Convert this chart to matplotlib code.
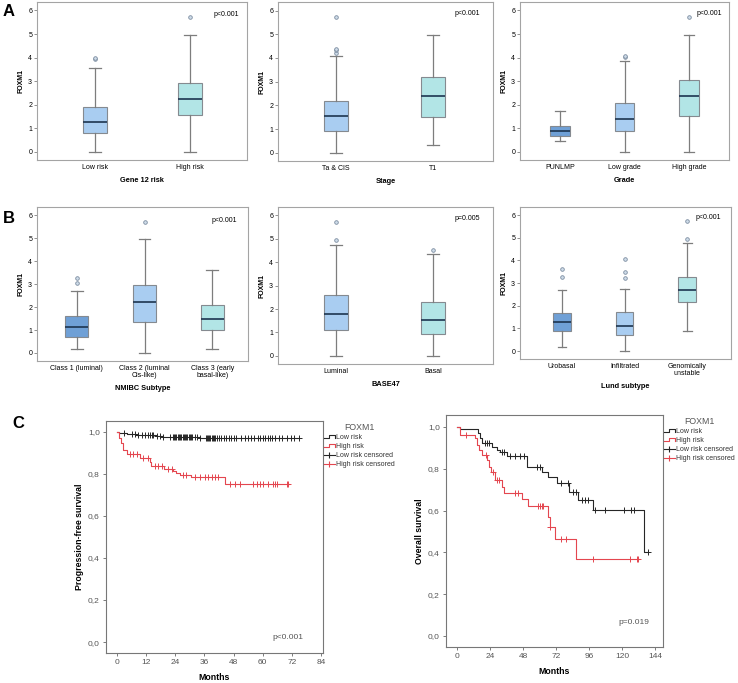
import numpy as np
import matplotlib
matplotlib.use("Agg")
import matplotlib.pyplot as plt
from matplotlib.lines import Line2D
from matplotlib.legend_handler import HandlerBase
from matplotlib.ticker import FuncFormatter

plt.rcParams['font.family'] = ['Liberation Sans', 'DejaVu Sans']

# ---------------- box plot summaries (FOXM1) ----------------
risk_labels = ["Low risk", "High risk"]
risk_q1 = [0.78, 1.55]
risk_med = [1.27, 2.22]
risk_q3 = [1.90, 2.92]
risk_lo = [0.0, 0.0]
risk_hi = [3.55, 4.95]
risk_out = [[3.95, 4.0], [5.72]]

stage_labels = ["Ta & CIS", "T1"]
stage_q1 = [0.92, 1.52]
stage_med = [1.55, 2.40]
stage_q3 = [2.18, 3.20]
stage_lo = [0.0, 0.33]
stage_hi = [4.10, 4.95]
stage_out = [[4.22, 4.32, 4.38, 5.72], []]

grade_labels = ["PUNLMP", "Low grade", "High grade"]
grade_q1 = [0.67, 0.88, 1.50]
grade_med = [0.90, 1.40, 2.35]
grade_q3 = [1.10, 2.08, 3.05]
grade_lo = [0.47, 0.0, 0.0]
grade_hi = [1.75, 3.87, 4.95]
grade_out = [[], [4.02, 4.07], [5.72]]

nmibc_labels = ["Class 1 (luminal)", "Class 2 (luminal\nCis-like)", "Class 3 (early\nbasal-like)"]
nmibc_q1 = [0.70, 1.35, 1.02]
nmibc_med = [1.15, 2.20, 1.50]
nmibc_q3 = [1.62, 2.95, 2.08]
nmibc_lo = [0.18, 0.0, 0.18]
nmibc_hi = [2.70, 4.95, 3.62]
nmibc_out = [[3.05, 3.28], [5.72], []]

base_labels = ["Luminal", "Basal"]
base_q1 = [1.12, 0.93]
base_med = [1.80, 1.55]
base_q3 = [2.60, 2.32]
base_lo = [0.0, 0.0]
base_hi = [4.75, 4.35]
base_out = [[4.95, 5.72], [4.52]]

lund_labels = ["Urobasal", "Infiltrated", "Genomically\nunstable"]
lund_q1 = [0.87, 0.73, 2.18]
lund_med = [1.30, 1.12, 2.68]
lund_q3 = [1.70, 1.72, 3.25]
lund_lo = [0.18, 0.0, 0.90]
lund_hi = [2.70, 2.72, 4.75]
lund_out = [[3.28, 3.62], [3.22, 3.50, 4.07], [4.95, 5.72]]

# ---------------- Kaplan-Meier curves ----------------
pfs_low_t = [0, 1, 4, 8, 12, 16, 19, 23, 34, 36]
pfs_low_s = [1.0, 0.994, 0.990, 0.987, 0.984, 0.980, 0.977, 0.975, 0.972, 0.969]
pfs_low_end = 75
pfs_low_cens = [3, 6.0, 7.4, 8.8, 10.2, 11.5, 12.9, 13.6, 14.3, 14.9, 16.3, 17.7, 19.1,
                22, 23, 23.5, 24, 24.5, 25, 25.5, 26, 26.5, 27, 27.5, 28, 28.5, 29, 29.5,
                30, 30.5, 31, 32, 33, 34, 36.5, 37, 37.5, 38, 38.5, 39, 39.5, 40, 40.5,
                41, 42, 43, 44, 45, 46, 47, 48, 49, 51, 52.5, 54, 55, 56.5, 58, 59, 60,
                61, 62, 63, 64, 65, 66.5, 68, 70, 71.5, 73, 75]

pfs_high_t = [0, 1.0, 1.5, 2.5, 4.0, 9.5, 13.5, 14.2, 19.5, 23.2, 24.5, 26.0, 30.5, 44.4]
pfs_high_s = [1.0, 0.970, 0.946, 0.914, 0.893, 0.878, 0.859, 0.837, 0.825, 0.815, 0.806,
              0.795, 0.785, 0.751]
pfs_high_end = 71
pfs_high_cens = [5.3, 6.7, 8.1, 10.8, 12.9, 15.6, 17.0, 18.4, 21.1, 22.5, 27.2, 28.6, 32.1,
                 34.2, 36.2, 37.6, 39.0, 40.3, 41.7, 46.5, 48.6, 50.6, 56.1, 57.5, 59.0,
                 60.2, 62.3, 64.3, 65.0, 65.7, 69.8, 70.5]

os_low_t = [0, 2.2, 15.5, 16.7, 18.4, 25.2, 28.8, 31.3, 36.1, 50.7, 61.6, 66.4, 72.5,
            81.5, 87.8, 99.2, 136.2]
os_low_s = [1.0, 0.989, 0.973, 0.946, 0.922, 0.906, 0.890, 0.879, 0.861, 0.810, 0.783,
            0.759, 0.731, 0.690, 0.651, 0.603, 0.400]
os_low_end = 138.7
os_low_cens = [20.5, 22, 23.5, 32.5, 34, 38.7, 42.4, 46, 48.5, 58, 60, 75.6, 81, 84, 86.5,
               90.8, 93.2, 95.6, 100.4, 107.6, 121.7, 126.5, 128.4, 138.7]

os_high_t = [0, 2.2, 13.1, 14.8, 16.2, 18.4, 21.6, 23.3, 24.5, 27.6, 32.5, 34.0, 47.0,
             51.6, 66.4, 67.3, 71.3, 86.5]
os_high_s = [1.0, 0.962, 0.946, 0.914, 0.890, 0.866, 0.842, 0.810, 0.786, 0.746, 0.713,
             0.683, 0.654, 0.622, 0.571, 0.520, 0.463, 0.367]
os_high_end = 132
os_high_cens = [6.5, 21.0, 26.4, 29.0, 30.5, 42.2, 44.6, 59.0, 60.2, 61.5, 62.3, 67.8,
                75.6, 79.3, 99.2, 125.8, 130.6, 131.8]

DARK = "#6fa0d6"
LIGHT = "#a9cdf1"
CYAN = "#b2e5e6"

W, H = 738, 683
fig = plt.figure(figsize=(W / 100, H / 100), dpi=100)


def px_axes(x0, y0, x1, y1):
    return fig.add_axes([x0 / W, 1 - y1 / H, (x1 - x0) / W, (y1 - y0) / H])


def box_panel(rect, labels, q1, med, q3, lo, hi, out, colors, xlabel, ptext, pxy,
              xlim, width):
    ax = px_axes(*rect)
    stats = []
    for i in range(len(labels)):
        stats.append(dict(med=med[i], q1=q1[i], q3=q3[i], whislo=lo[i], whishi=hi[i],
                          fliers=out[i], label=labels[i]))
    pos = np.arange(1, len(labels) + 1)
    bp = ax.bxp(stats, positions=pos, widths=width, patch_artist=True,
                boxprops=dict(edgecolor="#858a90", linewidth=0.8),
                whiskerprops=dict(color="#7d7d7d", linewidth=0.9),
                capprops=dict(color="#7d7d7d", linewidth=0.9),
                medianprops=dict(color="#1d3550", linewidth=1.2),
                flierprops=dict(marker="o", markersize=2.6, markerfacecolor="#cfdcea",
                                markeredgecolor="#7c8da0", markeredgewidth=0.6))
    for patch, c in zip(bp["boxes"], colors):
        patch.set_facecolor(c)
    ax.set_xlim(*xlim)
    ax.set_ylim(-0.35, 6.36)
    ax.set_yticks(range(7))
    ax.set_xticks(pos)
    ax.set_xticklabels(labels, fontsize=5, linespacing=1.05)
    ax.tick_params(axis="y", labelsize=5, length=2, width=0.5, color="#666", pad=1.5)
    ax.tick_params(axis="x", length=0, pad=3)
    for s in ax.spines.values():
        s.set_color("#a4a4a4")
        s.set_linewidth(0.8)
    ax.set_ylabel("FOXM1", fontsize=5, fontweight="bold", labelpad=2.5)
    ax.set_xlabel(xlabel, fontsize=5.3, fontweight="bold", labelpad=4)
    ax.text(pxy[0], pxy[1], ptext, transform=ax.transAxes, ha="right", va="center",
            fontsize=5)
    return ax


box_panel((37, 2, 247, 160), risk_labels, risk_q1, risk_med, risk_q3, risk_lo, risk_hi,
          risk_out, [LIGHT, CYAN], "Gene 12 risk", "p<0.001", (0.962, 0.924),
          (0.39, 2.6), 0.25)
box_panel((278, 2, 493, 161), stage_labels, stage_q1, stage_med, stage_q3, stage_lo,
          stage_hi, stage_out, [LIGHT, CYAN], "Stage", "p<0.001", (0.94, 0.925),
          (0.4, 2.62), 0.25)
box_panel((520, 2, 729, 160), grade_labels, grade_q1, grade_med, grade_q3, grade_lo,
          grade_hi, grade_out, [DARK, LIGHT, CYAN], "Grade", "p<0.001", (0.967, 0.93),
          (0.38, 3.62), 0.31)
box_panel((37, 207, 248, 361), nmibc_labels, nmibc_q1, nmibc_med, nmibc_q3, nmibc_lo,
          nmibc_hi, nmibc_out, [DARK, LIGHT, CYAN], "NMIBC Subtype", "p<0.001",
          (0.948, 0.911), (0.41, 3.53), 0.34)
box_panel((278, 207, 493, 364), base_labels, base_q1, base_med, base_q3, base_lo,
          base_hi, base_out, [LIGHT, CYAN], "BASE47", "p=0.005", (0.94, 0.924),
          (0.4, 2.62), 0.25)
box_panel((520, 207, 731, 359), lund_labels, lund_q1, lund_med, lund_q3, lund_lo,
          lund_hi, lund_out, [DARK, LIGHT, CYAN], "Lund subtype", "p<0.001",
          (0.951, 0.932), (0.33, 3.7), 0.28)


class StepHandler(HandlerBase):
    def __init__(self, censored=False):
        super().__init__()
        self.censored = censored

    def create_artists(self, legend, orig_handle, xdescent, ydescent, width, height,
                       fontsize, trans):
        c = orig_handle.get_color()
        x0, y0 = -xdescent, -ydescent
        if self.censored:
            line = Line2D([x0, x0 + width], [y0 + height * 0.45] * 2, color=c, lw=0.8,
                          transform=trans)
            mark = Line2D([x0 + width * 0.45], [y0 + height * 0.45], marker="|",
                          markersize=5, markeredgewidth=0.8, color=c, transform=trans)
            return [line, mark]
        xs = [x0, x0 + width * 0.5, x0 + width * 0.5, x0 + width, x0 + width]
        ys = [y0 + height * 0.2, y0 + height * 0.2, y0 + height * 0.85,
              y0 + height * 0.85, y0 + height * 0.2]
        return [Line2D(xs, ys, color=c, lw=0.8, transform=trans)]


def km_curve(ax, t, s, end, cens, color):
    tt = list(t) + [end]
    ss = list(s) + [s[-1]]
    ax.step(tt, ss, where="post", color=color, lw=0.8)
    idx = np.searchsorted(t, cens, side="right") - 1
    ax.plot(cens, np.array(s)[idx], linestyle="none", marker="+", markersize=4,
            markeredgewidth=0.7, color=color)


def km_panel(rect, low, high, xlim, ylim, xticks, ylabel, ptext, pxy):
    ax = px_axes(*rect)
    km_curve(ax, *low, "#262626")
    km_curve(ax, *high, "#e4464f")
    ax.set_xlim(*xlim)
    ax.set_ylim(*ylim)
    ax.set_xticks(xticks)
    ax.set_yticks(np.arange(0, 1.01, 0.2))
    ax.yaxis.set_major_formatter(FuncFormatter(lambda v, _: f"{v:.1f}".replace(".", ",")))
    ax.tick_params(labelsize=6, length=2.5, width=0.6, color="#666", labelcolor="#555",
                   pad=2)
    for sp in ax.spines.values():
        sp.set_color("#777")
        sp.set_linewidth(0.8)
    ax.set_xlabel("Months", fontsize=6.3, fontweight="bold", labelpad=5)
    ax.set_ylabel(ylabel, fontsize=6.3, fontweight="bold", labelpad=2.5)
    ax.text(pxy[0], pxy[1], ptext, transform=ax.transAxes, ha="right", va="center",
            fontsize=6, color="#555")
    h1 = Line2D([], [], color="#262626")
    h2 = Line2D([], [], color="#e4464f")
    h3 = Line2D([], [], color="#262626")
    h4 = Line2D([], [], color="#e4464f")
    leg = ax.legend([h1, h2, h3, h4],
                    ["Low risk", "High risk", "Low risk censored", "High risk censored"],
                    handler_map={h1: StepHandler(), h2: StepHandler(),
                                 h3: StepHandler(True), h4: StepHandler(True)},
                    loc="upper left", bbox_to_anchor=(1.005, 0.99), frameon=False,
                    fontsize=5, title="FOXM1", title_fontsize=6.3, handlelength=1.5,
                    handletextpad=0.15, labelspacing=0.28, borderpad=0,
                    borderaxespad=0)
    for txt in leg.get_texts():
        txt.set_color("#333")
    leg.get_title().set_color("#555")
    return ax


km_panel((106, 421, 323, 653),
         (pfs_low_t, pfs_low_s, pfs_low_end, pfs_low_cens),
         (pfs_high_t, pfs_high_s, pfs_high_end, pfs_high_cens),
         (-4.5, 84.8), (-0.052, 1.052), range(0, 85, 12), "Progression-free survival",
         "p<0.001", (0.912, 0.068))
km_panel((446, 415, 663, 647),
         (os_low_t, os_low_s, os_low_end, os_low_cens),
         (os_high_t, os_high_s, os_high_end, os_high_cens),
         (-8, 149.8), (-0.053, 1.057), range(0, 145, 24), "Overall survival",
         "p=0.019", (0.937, 0.105))

fig.text(3 / W, 1 - 11 / H, "A", fontsize=12, fontweight="bold", va="center")
fig.text(3 / W, 1 - 218 / H, "B", fontsize=12, fontweight="bold", va="center")
fig.text(12 / W, 1 - 424 / H, "C", fontsize=12, fontweight="bold", va="center")

fig.savefig("out.png", dpi=100)
